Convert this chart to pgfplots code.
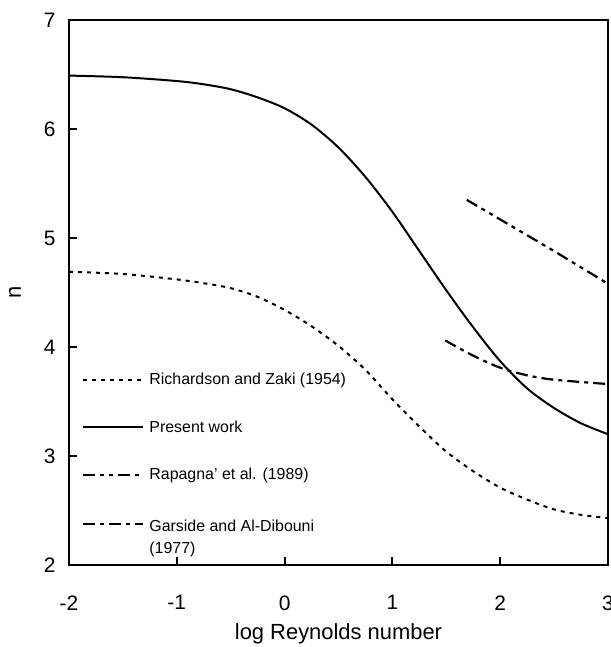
\documentclass[border=0pt]{standalone}
\usepackage{fontspec}
\setmainfont{Liberation Sans}
\usepackage{pgfplots}
\pgfplotsset{compat=1.18}

\begin{document}
\begin{tikzpicture}
\begin{axis}[
    name=ax,
    scale only axis,
    width=539bp, height=545bp,
    xmin=-2, xmax=3, ymin=2, ymax=7,
    xtick={-2,-1,...,3}, ytick={2,3,...,7},
    xtick pos=left, ytick pos=left,
    tick align=inside,
    major tick length=8bp,
    axis line style={line width=2.2pt},
    every tick/.style={black, line width=2.2pt},
    /pgf/number format/assume math mode=true,
    ticklabel style={font=\fontsize{21}{25}\selectfont},
    xticklabel style={yshift=-27bp},
    yticklabel style={xshift=-10bp},
    label style={font=\fontsize{22}{26}\selectfont},
    xlabel={log Reynolds number},
    ylabel={n},
    xlabel style={at={(axis description cs:0.5,0)}, anchor=center, yshift=-69bp},
    ylabel style={at={(axis description cs:0,0.5)}, anchor=center, yshift=54bp},
    legend cell align=left,
    legend style={at={(axis cs:-2,2)}, anchor=north west, xshift=13bp, yshift=192bp,
        draw=none, fill=none, inner sep=0pt,
        font=\fontsize{16}{22}\selectfont,
        row sep=34.5bp, column sep=5bp,
        nodes={inner sep=0pt}},
    legend image code/.code={\draw[#1] (0bp,0bp) -- (60bp,0bp);},
]
\addplot[black, line width=2pt, smooth, dash pattern=on 4bp off 5bp] coordinates {
(-2,4.69) (-1.5,4.67) (-1,4.62) (-0.75,4.585) (-0.5,4.54) (-0.25,4.46) (0,4.34) (0.25,4.19)
(0.5,4.01) (0.75,3.79) (1.0,3.52) (1.25,3.27) (1.5,3.04) (1.75,2.86) (2.0,2.71)
(2.25,2.60) (2.5,2.51) (2.75,2.46) (3.0,2.43)};
\addlegendentry{Richardson and Zaki (1954)}

\addplot[black, line width=2pt, smooth] coordinates {
(-2,6.49) (-1.5,6.475) (-1,6.44) (-0.75,6.41) (-0.5,6.365) (-0.25,6.29) (0,6.19) (0.25,6.04) (0.5,5.83)
(0.75,5.56) (1.0,5.24) (1.25,4.88) (1.5,4.52) (1.75,4.18) (2.0,3.87) (2.25,3.62)
(2.5,3.44) (2.75,3.30) (3.0,3.20)};
\addlegendentry{Present work}

\addplot[black, line width=2.2pt, dash pattern=on 12bp off 5bp on 4bp off 5bp on 4bp off 5bp] coordinates {
(1.69,5.35) (2.0,5.17) (2.5,4.88) (3,4.58)};
\addlegendentry{Rapagna' et al. (1989)}

\addplot[black, line width=2.2pt, smooth, dash pattern=on 12bp off 5bp on 4bp off 5bp] coordinates {
(1.49,4.06) (1.75,3.92) (2.0,3.81) (2.25,3.74) (2.5,3.70) (3,3.66)};
\addlegendentry{\begin{tabular}[t]{@{}l@{}}Garside and Al-Dibouni\\(1977)\end{tabular}}
\end{axis}
\pgfresetboundingbox
\path (ax.south west) ++(-69bp,-82bp) rectangle ++(611bp,647bp);
\end{tikzpicture}
\end{document}
